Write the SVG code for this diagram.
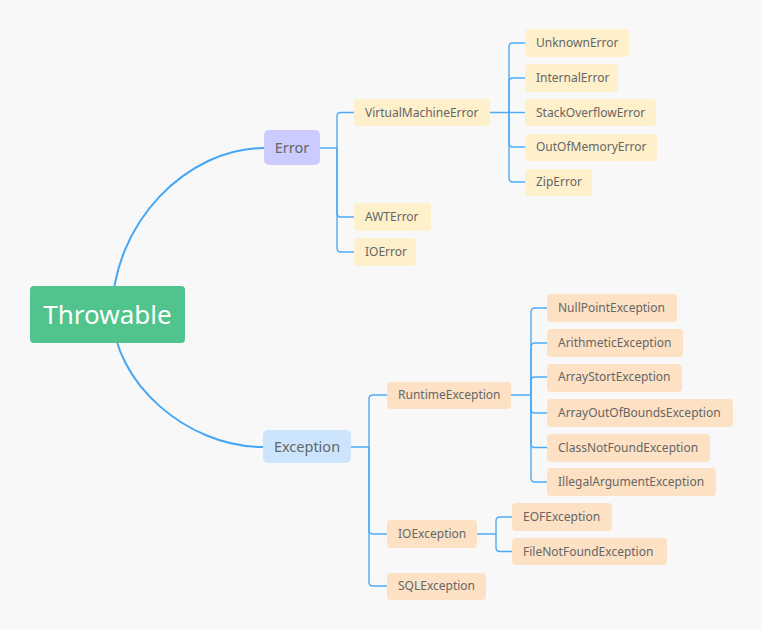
<svg xmlns="http://www.w3.org/2000/svg" width="762" height="630" viewBox="0 0 762 630">
<style>
.bg{fill:#f8f8f8}
.curve{fill:none;stroke:#45a6f5;stroke-width:2}
.br{fill:none;stroke:#4eaaf6;stroke-width:1.4}
.y{fill:#fef0cb}
.o{fill:#fde1c4}
.t{font-family:"Noto Sans","Open Sans",sans-serif;font-size:12px;fill:#666666}
.m{font-family:"Noto Sans","Open Sans",sans-serif;font-size:14.5px;fill:#666666}
</style>
<rect class="bg" x="0" y="0" width="762" height="630"/>
<g id="connectors">
<path class="curve" d="M112,315 C112,222 188,148 264,148"/>
<path class="curve" d="M113,315 C113,380 185,447 263,447"/>
<path class="br" d="M320,148 H337 V116.5 q0,-4 4,-4 H354"/>
<path class="br" d="M337,148 V213 q0,4 4,4 H354"/>
<path class="br" d="M337,148 V248 q0,4 4,4 H354"/>
<path class="br" d="M490,112.5 H509 V47 q0,-4 4,-4 H525"/>
<path class="br" d="M509,112.5 V82 q0,-4 4,-4 H525"/>
<path class="br" d="M509,112.5 H525"/>
<path class="br" d="M509,112.5 V143 q0,4 4,4 H525"/>
<path class="br" d="M509,112.5 V178 q0,4 4,4 H525"/>
<path class="br" d="M351,447 H369 V399 q0,-4 4,-4 H387"/>
<path class="br" d="M369,447 V530 q0,4 4,4 H387"/>
<path class="br" d="M369,447 V582 q0,4 4,4 H387"/>
<path class="br" d="M511,395 H531 V312 q0,-4 4,-4 H547"/>
<path class="br" d="M531,395 V347 q0,-4 4,-4 H547"/>
<path class="br" d="M531,395 V381 q0,-4 4,-4 H547"/>
<path class="br" d="M531,395 V409 q0,4 4,4 H547"/>
<path class="br" d="M531,395 V443.5 q0,4 4,4 H547"/>
<path class="br" d="M531,395 V478 q0,4 4,4 H547"/>
<path class="br" d="M477,534 H496 V521 q0,-4 4,-4 H512"/>
<path class="br" d="M496,534 V547.5 q0,4 4,4 H512"/>
</g>
<g id="throwable"><rect x="30" y="286" width="155" height="57" rx="4" fill="#50c48c"/><text x="107.5" y="324" text-anchor="middle" font-family="Noto Sans, Open Sans, sans-serif" font-size="26" fill="#ffffff">Throwable</text></g>
<g id="error"><rect x="264" y="130" width="56" height="35" rx="5" fill="#cccbfe"/><text class="m" x="292" y="153" text-anchor="middle">Error</text></g>
<g id="exception"><rect x="263" y="430" width="88" height="33" rx="5" fill="#cce5fc"/><text class="m" x="307" y="452" text-anchor="middle">Exception</text></g>
<g id="vme"><rect class="y" x="354" y="99" width="136" height="27" rx="4"/><text class="t" x="365" y="116.5">VirtualMachineError</text></g>
<g id="awt"><rect class="y" x="354" y="203" width="77" height="28" rx="4"/><text class="t" x="365" y="221">AWTError</text></g>
<g id="ioerror"><rect class="y" x="354" y="238" width="62" height="28" rx="4"/><text class="t" x="365" y="256">IOError</text></g>
<g id="unknown"><rect class="y" x="525" y="29" width="104" height="28" rx="4"/><text class="t" x="536" y="47">UnknownError</text></g>
<g id="internal"><rect class="y" x="525" y="64" width="93" height="28" rx="4"/><text class="t" x="536" y="82">InternalError</text></g>
<g id="stackoverflow"><rect class="y" x="525" y="99" width="131" height="27" rx="4"/><text class="t" x="536" y="116.5">StackOverflowError</text></g>
<g id="outofmemory"><rect class="y" x="525" y="134" width="132" height="27" rx="4"/><text class="t" x="536" y="151">OutOfMemoryError</text></g>
<g id="ziperror"><rect class="y" x="525" y="169" width="67" height="27" rx="4"/><text class="t" x="536" y="186">ZipError</text></g>
<g id="runtime"><rect class="o" x="387" y="382" width="124" height="27" rx="4"/><text class="t" x="398" y="399">RuntimeException</text></g>
<g id="ioexception"><rect class="o" x="387" y="520" width="90" height="28" rx="4"/><text class="t" x="398" y="538">IOException</text></g>
<g id="sqlexception"><rect class="o" x="387" y="573" width="99" height="27" rx="4"/><text class="t" x="398" y="590">SQLException</text></g>
<g id="nullpoint"><rect class="o" x="547" y="294" width="130" height="28" rx="4"/><text class="t" x="558" y="312">NullPointException</text></g>
<g id="arithmetic"><rect class="o" x="547" y="329" width="136" height="28" rx="4"/><text class="t" x="558" y="347">ArithmeticException</text></g>
<g id="arraystort"><rect class="o" x="547" y="364" width="135" height="28" rx="4"/><text class="t" x="558" y="381">ArrayStortException</text></g>
<g id="arrayoutofbounds"><rect class="o" x="547" y="399" width="186" height="28" rx="4"/><text class="t" x="558" y="417">ArrayOutOfBoundsException</text></g>
<g id="classnotfound"><rect class="o" x="547" y="434" width="163" height="28" rx="4"/><text class="t" x="558" y="451.5">ClassNotFoundException</text></g>
<g id="illegalargument"><rect class="o" x="547" y="468" width="169" height="28" rx="4"/><text class="t" x="558" y="486">IllegalArgumentException</text></g>
<g id="eof"><rect class="o" x="512" y="503" width="100" height="28" rx="4"/><text class="t" x="523" y="521">EOFException</text></g>
<g id="filenotfound"><rect class="o" x="512" y="538" width="155" height="27" rx="4"/><text class="t" x="523" y="555.5">FileNotFoundException</text></g>
</svg>
